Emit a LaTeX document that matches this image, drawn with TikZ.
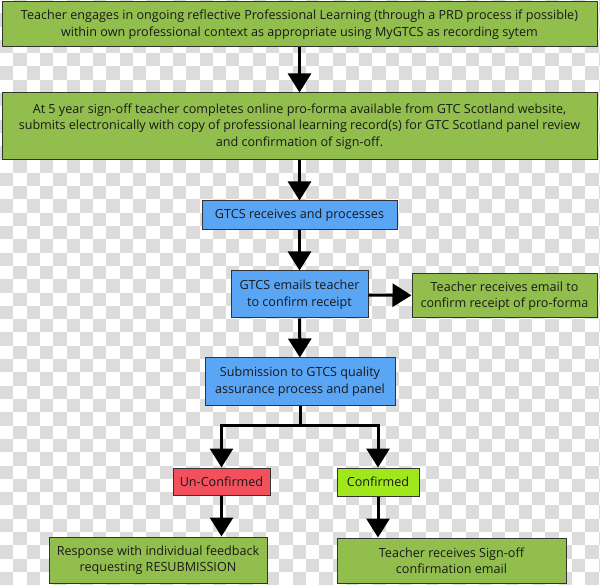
\documentclass[tikz,border=0pt]{standalone}
\usepackage{fontspec}
\setmainfont{Open Sans}
\usetikzlibrary{arrows.meta}
\definecolor{gr}{HTML}{92BE4E}
\definecolor{bl}{HTML}{5AA6F5}
\definecolor{rd}{HTML}{F2505C}
\definecolor{lg}{HTML}{A0E81C}
\definecolor{chk}{HTML}{DCDCDC}
\begin{document}
\begin{tikzpicture}[x=1pt,y=-1pt,
 box/.style={draw=black!80,line width=1pt,align=center,inner sep=0pt,font=\fontsize{12.6}{16.5}\selectfont,text=black!90},
 arr/.style={line width=3pt,-{Triangle[width=23pt,length=19pt]}},
 ln/.style={line width=3pt}]
\useasboundingbox (0,0) rectangle (600,585);
\fill[white] (0,0) rectangle (600,585);
\foreach \i in {0,...,45}{\foreach \j in {0,...,44}{
  \pgfmathparse{int(mod(\i+\j,2))}
  \ifnum\pgfmathresult=1 \fill[chk] (\i*13.3,\j*13.3) rectangle ++(13.3,13.3);\fi}}
\node[box,fill=gr,minimum width=595pt,minimum height=45pt] (b1) at (299.5,24.5) {Teacher engages in ongoing reflective Professional Learning (through a PRD process if possible)\\within own professional context as appropriate using MyGTCS as recording sytem};
\node[box,fill=gr,minimum width=595pt,minimum height=67pt] (b2) at (299.5,126.5) {At 5 year sign-off teacher completes online pro-forma available from GTC Scotland website,\\submits electronically with copy of professional learning record(s) for GTC Scotland panel review\\and confirmation of sign-off.};
\node[box,fill=bl,minimum width=195pt,minimum height=29pt] (b3) at (299.5,215.5) {GTCS receives and processes};
\node[box,fill=bl,minimum width=137pt,minimum height=47pt] (b4) at (299.5,294.5) {GTCS emails teacher\\to confirm receipt};
\node[box,fill=gr,minimum width=185pt,minimum height=44pt] (b5) at (504.5,296) {Teacher receives email to\\confirm receipt of pro-forma};
\node[box,fill=bl,minimum width=190pt,minimum height=47pt] (b6) at (300,381.5) {Submission to GTCS quality\\assurance process and panel};
\node[box,fill=rd,minimum width=97pt,minimum height=27pt] (b7) at (221.5,481.5) {Un-Confirmed};
\node[box,fill=lg,minimum width=82pt,minimum height=28pt] (b8) at (378,482) {Confirmed};
\node[box,fill=gr,minimum width=218pt,minimum height=46pt] (b9) at (158,560) {Response with individual feedback\\requesting RESUBMISSION};
\node[box,fill=gr,minimum width=229pt,minimum height=45pt] (b10) at (451.5,560.5) {Teacher receives Sign-off\\confirmation email};
\draw[arr] (b1) -- (b2);
\draw[arr] (b2) -- (b3);
\draw[arr] (b3) -- (b4);
\draw[arr] (b4) -- (b5);
\draw[arr] (b4) -- (b6);
\coordinate (j) at (300,425);
\draw[ln] (b6.south) -- (j);
\draw[arr] (j) -| (b7.north);
\draw[arr] (j) -| (b8.north);
\draw[arr] (b7.south) -- (b7.south|-b9.north);
\draw[arr] (b8.south) -- (b8.south|-b10.north);
\end{tikzpicture}
\end{document}
